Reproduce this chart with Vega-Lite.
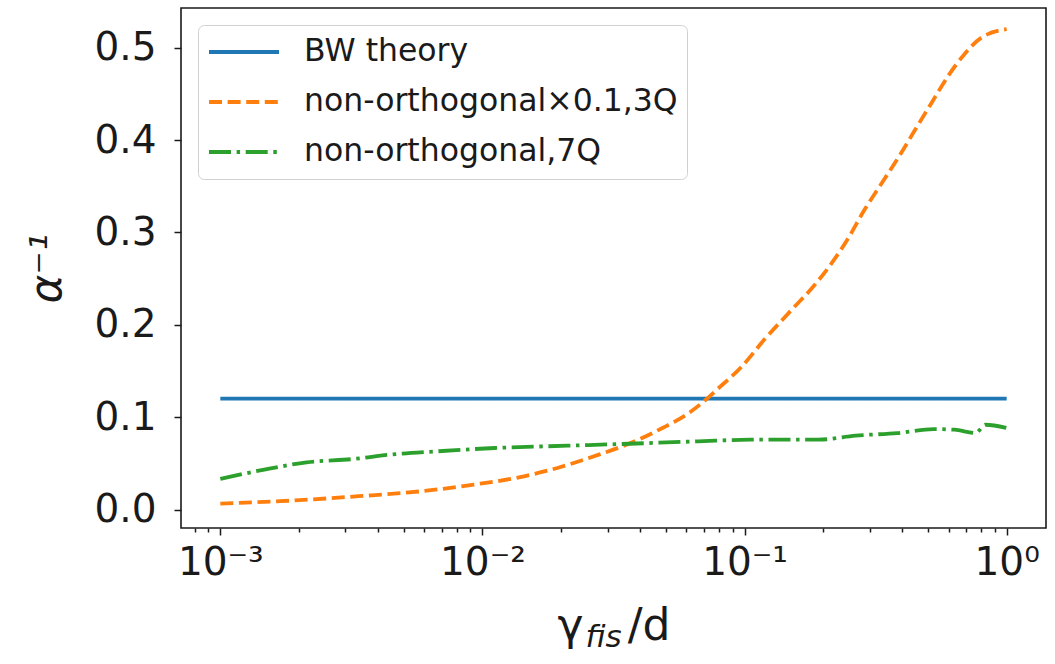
{
  "$schema": "https://vega.github.io/schema/vega-lite/v6.json",
  "width": 865,
  "height": 520,
  "autosize": {"type": "none"},
  "padding": {"left": 181, "top": 8, "right": 9, "bottom": 136},
  "background": "white",
  "config": {
    "font": "DejaVu Sans",
    "view": {"stroke": "#1a1a1a", "strokeWidth": 1.6},
    "axis": {
      "domain": false,
      "grid": false,
      "tickColor": "#1a1a1a",
      "tickWidth": 1.5,
      "labelColor": "#1a1a1a",
      "titleColor": "#1a1a1a",
      "labelFont": "DejaVu Sans",
      "titleFont": "DejaVu Sans",
      "titleFontWeight": "normal"
    },
    "legend": {
      "orient": "none",
      "legendX": 17,
      "legendY": 17,
      "title": null,
      "symbolType": "stroke",
      "symbolSize": 4900,
      "symbolStrokeWidth": 3.8,
      "labelFont": "DejaVu Sans",
      "labelFontSize": 31.5,
      "labelColor": "#1a1a1a",
      "labelOffset": 23,
      "labelLimit": 600,
      "padding": 9,
      "cornerRadius": 6,
      "strokeColor": "#d0d0d0",
      "fillColor": "rgba(255,255,255,0.85)",
      "clipHeight": 36,
      "rowPadding": 14
    }
  },
  "title": {
    "text": "fis",
    "orient": "bottom",
    "anchor": "middle",
    "fontSize": 31,
    "fontStyle": "italic",
    "fontWeight": "normal",
    "font": "DejaVu Sans",
    "color": "#1a1a1a",
    "dx": -10,
    "dy": -25,
    "offset": 0
  },
  "data": {
    "values": [
      {"series": "BW theory", "gamma": 0.001, "alpha": 0.12},
      {"series": "BW theory", "gamma": 1.0, "alpha": 0.12},

      {"series": "non-orthogonal×0.1,3Q", "gamma": 0.001, "alpha": 0.0065},
      {"series": "non-orthogonal×0.1,3Q", "gamma": 0.001694, "alpha": 0.009},
      {"series": "non-orthogonal×0.1,3Q", "gamma": 0.003365, "alpha": 0.0144},
      {"series": "non-orthogonal×0.1,3Q", "gamma": 0.005855, "alpha": 0.0198},
      {"series": "non-orthogonal×0.1,3Q", "gamma": 0.009268, "alpha": 0.027},
      {"series": "non-orthogonal×0.1,3Q", "gamma": 0.0134, "alpha": 0.0342},
      {"series": "non-orthogonal×0.1,3Q", "gamma": 0.01931, "alpha": 0.045},
      {"series": "non-orthogonal×0.1,3Q", "gamma": 0.0278, "alpha": 0.0594},
      {"series": "non-orthogonal×0.1,3Q", "gamma": 0.0367, "alpha": 0.072},
      {"series": "non-orthogonal×0.1,3Q", "gamma": 0.04842, "alpha": 0.088},
      {"series": "non-orthogonal×0.1,3Q", "gamma": 0.06093, "alpha": 0.104},
      {"series": "non-orthogonal×0.1,3Q", "gamma": 0.06987, "alpha": 0.117},
      {"series": "non-orthogonal×0.1,3Q", "gamma": 0.0793, "alpha": 0.131},
      {"series": "non-orthogonal×0.1,3Q", "gamma": 0.097, "alpha": 0.154},
      {"series": "non-orthogonal×0.1,3Q", "gamma": 0.119, "alpha": 0.184},
      {"series": "non-orthogonal×0.1,3Q", "gamma": 0.151, "alpha": 0.216},
      {"series": "non-orthogonal×0.1,3Q", "gamma": 0.185, "alpha": 0.243},
      {"series": "non-orthogonal×0.1,3Q", "gamma": 0.214, "alpha": 0.266},
      {"series": "non-orthogonal×0.1,3Q", "gamma": 0.249, "alpha": 0.294},
      {"series": "non-orthogonal×0.1,3Q", "gamma": 0.286, "alpha": 0.324},
      {"series": "non-orthogonal×0.1,3Q", "gamma": 0.333, "alpha": 0.353},
      {"series": "non-orthogonal×0.1,3Q", "gamma": 0.386, "alpha": 0.381},
      {"series": "non-orthogonal×0.1,3Q", "gamma": 0.445, "alpha": 0.41},
      {"series": "non-orthogonal×0.1,3Q", "gamma": 0.516, "alpha": 0.44},
      {"series": "non-orthogonal×0.1,3Q", "gamma": 0.6, "alpha": 0.47},
      {"series": "non-orthogonal×0.1,3Q", "gamma": 0.69, "alpha": 0.493},
      {"series": "non-orthogonal×0.1,3Q", "gamma": 0.802, "alpha": 0.511},
      {"series": "non-orthogonal×0.1,3Q", "gamma": 1.0, "alpha": 0.52},

      {"series": "non-orthogonal,7Q", "gamma": 0.001, "alpha": 0.0331},
      {"series": "non-orthogonal,7Q", "gamma": 0.001472, "alpha": 0.0432},
      {"series": "non-orthogonal,7Q", "gamma": 0.002133, "alpha": 0.0511},
      {"series": "non-orthogonal,7Q", "gamma": 0.003223, "alpha": 0.0547},
      {"series": "non-orthogonal,7Q", "gamma": 0.004443, "alpha": 0.0594},
      {"series": "non-orthogonal,7Q", "gamma": 0.006717, "alpha": 0.063},
      {"series": "non-orthogonal,7Q", "gamma": 0.01114, "alpha": 0.0666},
      {"series": "non-orthogonal,7Q", "gamma": 0.02118, "alpha": 0.0691},
      {"series": "non-orthogonal,7Q", "gamma": 0.0335, "alpha": 0.0709},
      {"series": "non-orthogonal,7Q", "gamma": 0.06653, "alpha": 0.0738},
      {"series": "non-orthogonal,7Q", "gamma": 0.105, "alpha": 0.0756},
      {"series": "non-orthogonal,7Q", "gamma": 0.191, "alpha": 0.0756},
      {"series": "non-orthogonal,7Q", "gamma": 0.2649, "alpha": 0.08},
      {"series": "non-orthogonal,7Q", "gamma": 0.3828, "alpha": 0.0828},
      {"series": "non-orthogonal,7Q", "gamma": 0.5257, "alpha": 0.0871},
      {"series": "non-orthogonal,7Q", "gamma": 0.6324, "alpha": 0.0864},
      {"series": "non-orthogonal,7Q", "gamma": 0.7607, "alpha": 0.0828},
      {"series": "non-orthogonal,7Q", "gamma": 0.8299, "alpha": 0.0918},
      {"series": "non-orthogonal,7Q", "gamma": 1.0, "alpha": 0.0882}
    ]
  },
  "mark": {"type": "line", "strokeWidth": 3.8, "interpolate": "monotone"},
  "encoding": {
    "x": {
      "field": "gamma",
      "type": "quantitative",
      "scale": {"type": "log", "domain": [0.000708, 1.4125], "nice": false},
      "axis": {
        "title": "γ\u2003/d",
        "titleFontSize": 44,
        "titlePadding": 22,
        "values": [0.0008, 0.0009, 0.001, 0.002, 0.003, 0.004, 0.005, 0.006, 0.007, 0.008, 0.009, 0.01, 0.02, 0.03, 0.04, 0.05, 0.06, 0.07, 0.08, 0.09, 0.1, 0.2, 0.3, 0.4, 0.5, 0.6, 0.7, 0.8, 0.9, 1],
        "labelExpr": "datum.value === 0.001 ? '10⁻³' : datum.value === 0.01 ? '10⁻²' : datum.value === 0.1 ? '10⁻¹' : datum.value === 1 ? '10⁰' : ''",
        "labelFontSize": 39,
        "labelPadding": 8,
        "labelFlush": false,
        "labelOverlap": false,
        "tickSize": {"condition": {"test": "indexof([0.001, 0.01, 0.1, 1], datum.value) >= 0", "value": 7}, "value": 4}
      }
    },
    "y": {
      "field": "alpha",
      "type": "quantitative",
      "scale": {"domain": [-0.02, 0.543], "nice": false, "zero": false},
      "axis": {
        "title": "α⁻¹",
        "titleFontSize": 44,
        "titleFontStyle": "italic",
        "titlePadding": 24,
        "values": [0, 0.1, 0.2, 0.3, 0.4, 0.5],
        "format": ".1f",
        "labelFontSize": 39,
        "labelPadding": 18,
        "tickSize": 7
      }
    },
    "color": {
      "field": "series",
      "type": "nominal",
      "scale": {
        "domain": ["BW theory", "non-orthogonal×0.1,3Q", "non-orthogonal,7Q"],
        "range": ["#1f77b4", "#ff7f0e", "#2ca02c"]
      }
    },
    "strokeDash": {
      "field": "series",
      "type": "nominal",
      "scale": {
        "domain": ["BW theory", "non-orthogonal×0.1,3Q", "non-orthogonal,7Q"],
        "range": [[1, 0], [13, 5.6], [22, 5.6, 3.5, 5.6]]
      }
    }
  }
}
